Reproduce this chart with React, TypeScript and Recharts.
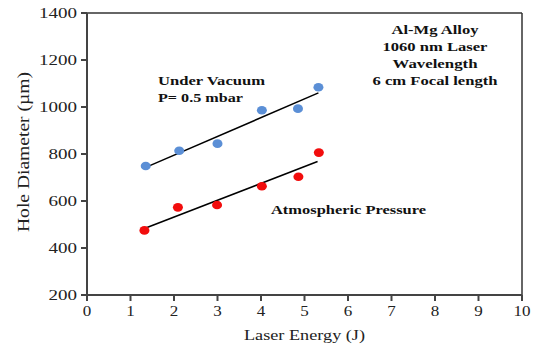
import React from 'react';
import {
    ComposedChart,
    Scatter,
    Line,
    XAxis,
    YAxis,
    ReferenceLine,
} from 'recharts';

// measured points
const energyVacuum = [1.35, 2.12, 3.0, 4.02, 4.85, 5.32];
const diameterVacuum = [749, 814, 844, 986, 993, 1084];
const energyAtm = [1.32, 2.09, 2.99, 4.02, 4.86, 5.33];
const diameterAtm = [475, 573, 583, 663, 703, 806];

// fitted trend lines (end points)
const fitVacuumX = [1.35, 5.32];
const fitVacuumY = [743, 1060];
const fitAtmX = [1.32, 5.3];
const fitAtmY = [483, 768];

const xTicks = [0, 1, 2, 3, 4, 5, 6, 7, 8, 9, 10];
const yTicks = [200, 400, 600, 800, 1000, 1200, 1400];

const toPoints = (xs: number[], ys: number[]) => xs.map((x, i) => ({ x, y: ys[i] }));

const vacuumData = toPoints(energyVacuum, diameterVacuum);
const atmData = toPoints(energyAtm, diameterAtm);
const vacuumFit = toPoints(fitVacuumX, fitVacuumY);
const atmFit = toPoints(fitAtmX, fitAtmY);

const FONT = '"Liberation Serif", "Times New Roman", serif';
const AXIS = '#444';

const YTick = (props: any) => {
    const { x, y, payload } = props;
    const s = String(payload.value);
    return (
        <text x={x} y={y} dy={5} textAnchor="end" fontFamily={FONT} fontSize={15} fill="#222"
            textLength={s.length * 9.5} lengthAdjust="spacingAndGlyphs">
            {s}
        </text>
    );
};

const XTick = (props: any) => {
    const { x, y, payload } = props;
    const s = String(payload.value);
    return (
        <text x={x} y={y} dy="0.71em" textAnchor="middle" fontFamily={FONT} fontSize={15} fill="#222"
            textLength={s.length * 8.5} lengthAdjust="spacingAndGlyphs">
            {s}
        </text>
    );
};

const dot = (color: string) => (props: any) => (
    <ellipse cx={props.cx} cy={props.cy} rx={5} ry={4.3} fill={color} />
);

const Note = ({ x, y, w, anchor = 'start', children }: any) => (
    <text x={x} y={y} textAnchor={anchor} fontFamily={FONT} fontWeight="bold" fontSize={13}
        fill="#111" textLength={w} lengthAdjust="spacingAndGlyphs">
        {children}
    </text>
);

export default function App() {
    return (
        <div style={{ position: 'absolute', left: 0, top: 0, width: 537, height: 347, background: '#fff' }}>
            <ComposedChart width={537} height={347} margin={{ top: 13, right: 15, bottom: 22, left: 27 }}>
                <XAxis
                    type="number"
                    dataKey="x"
                    domain={[0, 10]}
                    ticks={xTicks}
                    allowDataOverflow
                    height={30}
                    tick={<XTick />}
                    tickSize={6}
                    tickMargin={4}
                    axisLine={{ stroke: AXIS, strokeWidth: 2 }}
                    tickLine={{ stroke: AXIS, strokeWidth: 2 }}
                    label={{
                        content: (p: any) => (
                            <text x={p.viewBox.x + p.viewBox.width / 2} y={p.viewBox.y + 45}
                                textAnchor="middle" fontFamily={FONT} fontSize={15} fill="#222"
                                textLength={121} lengthAdjust="spacingAndGlyphs">
                                Laser Energy (J)
                            </text>
                        ),
                    }}
                />
                <YAxis
                    type="number"
                    dataKey="y"
                    domain={[200, 1400]}
                    ticks={yTicks}
                    allowDataOverflow
                    width={60}
                    tick={<YTick />}
                    tickSize={6}
                    tickMargin={4}
                    axisLine={{ stroke: AXIS, strokeWidth: 2 }}
                    tickLine={{ stroke: AXIS, strokeWidth: 2 }}
                    label={{
                        content: (p: any) => {
                            const cx = 23;
                            const cy = p.viewBox.y + p.viewBox.height / 2 - 2;
                            return (
                                <text x={cx} y={cy} transform={`rotate(-90 ${cx} ${cy})`} dy={6}
                                    textAnchor="middle" fontFamily={FONT} fontSize={16} fill="#222"
                                    textLength={160} lengthAdjust="spacingAndGlyphs">
                                    Hole Diameter (µm)
                                </text>
                            );
                        },
                    }}
                />
                <ReferenceLine y={1400} stroke="#333" strokeWidth={1.5} />
                <ReferenceLine x={10} stroke="#333" strokeWidth={1.5} />
                <Line data={vacuumFit} dataKey="y" type="linear" stroke="#000" strokeWidth={1.5}
                    dot={false} activeDot={false} isAnimationActive={false} />
                <Line data={atmFit} dataKey="y" type="linear" stroke="#000" strokeWidth={1.5}
                    dot={false} activeDot={false} isAnimationActive={false} />
                <Scatter data={vacuumData} dataKey="y" shape={dot('#5b8fd6')} isAnimationActive={false} />
                <Scatter data={atmData} dataKey="y" shape={dot('#f20d0d')} isAnimationActive={false} />
            </ComposedChart>
            <svg width={537} height={347} style={{ position: 'absolute', left: 0, top: 0, pointerEvents: 'none' }}>
                <Note x={158} y={85} w={107}>Under Vacuum</Note>
                <Note x={158} y={102} w={85}>P= 0.5 mbar</Note>
                <Note x={435} y={34} w={87} anchor="middle">Al-Mg Alloy</Note>
                <Note x={435} y={51} w={105} anchor="middle">1060 nm Laser</Note>
                <Note x={435} y={68} w={85} anchor="middle">Wavelength</Note>
                <Note x={435} y={85} w={125} anchor="middle">6 cm Focal length</Note>
                <Note x={271} y={214} w={155}>Atmospheric Pressure</Note>
            </svg>
        </div>
    );
}
